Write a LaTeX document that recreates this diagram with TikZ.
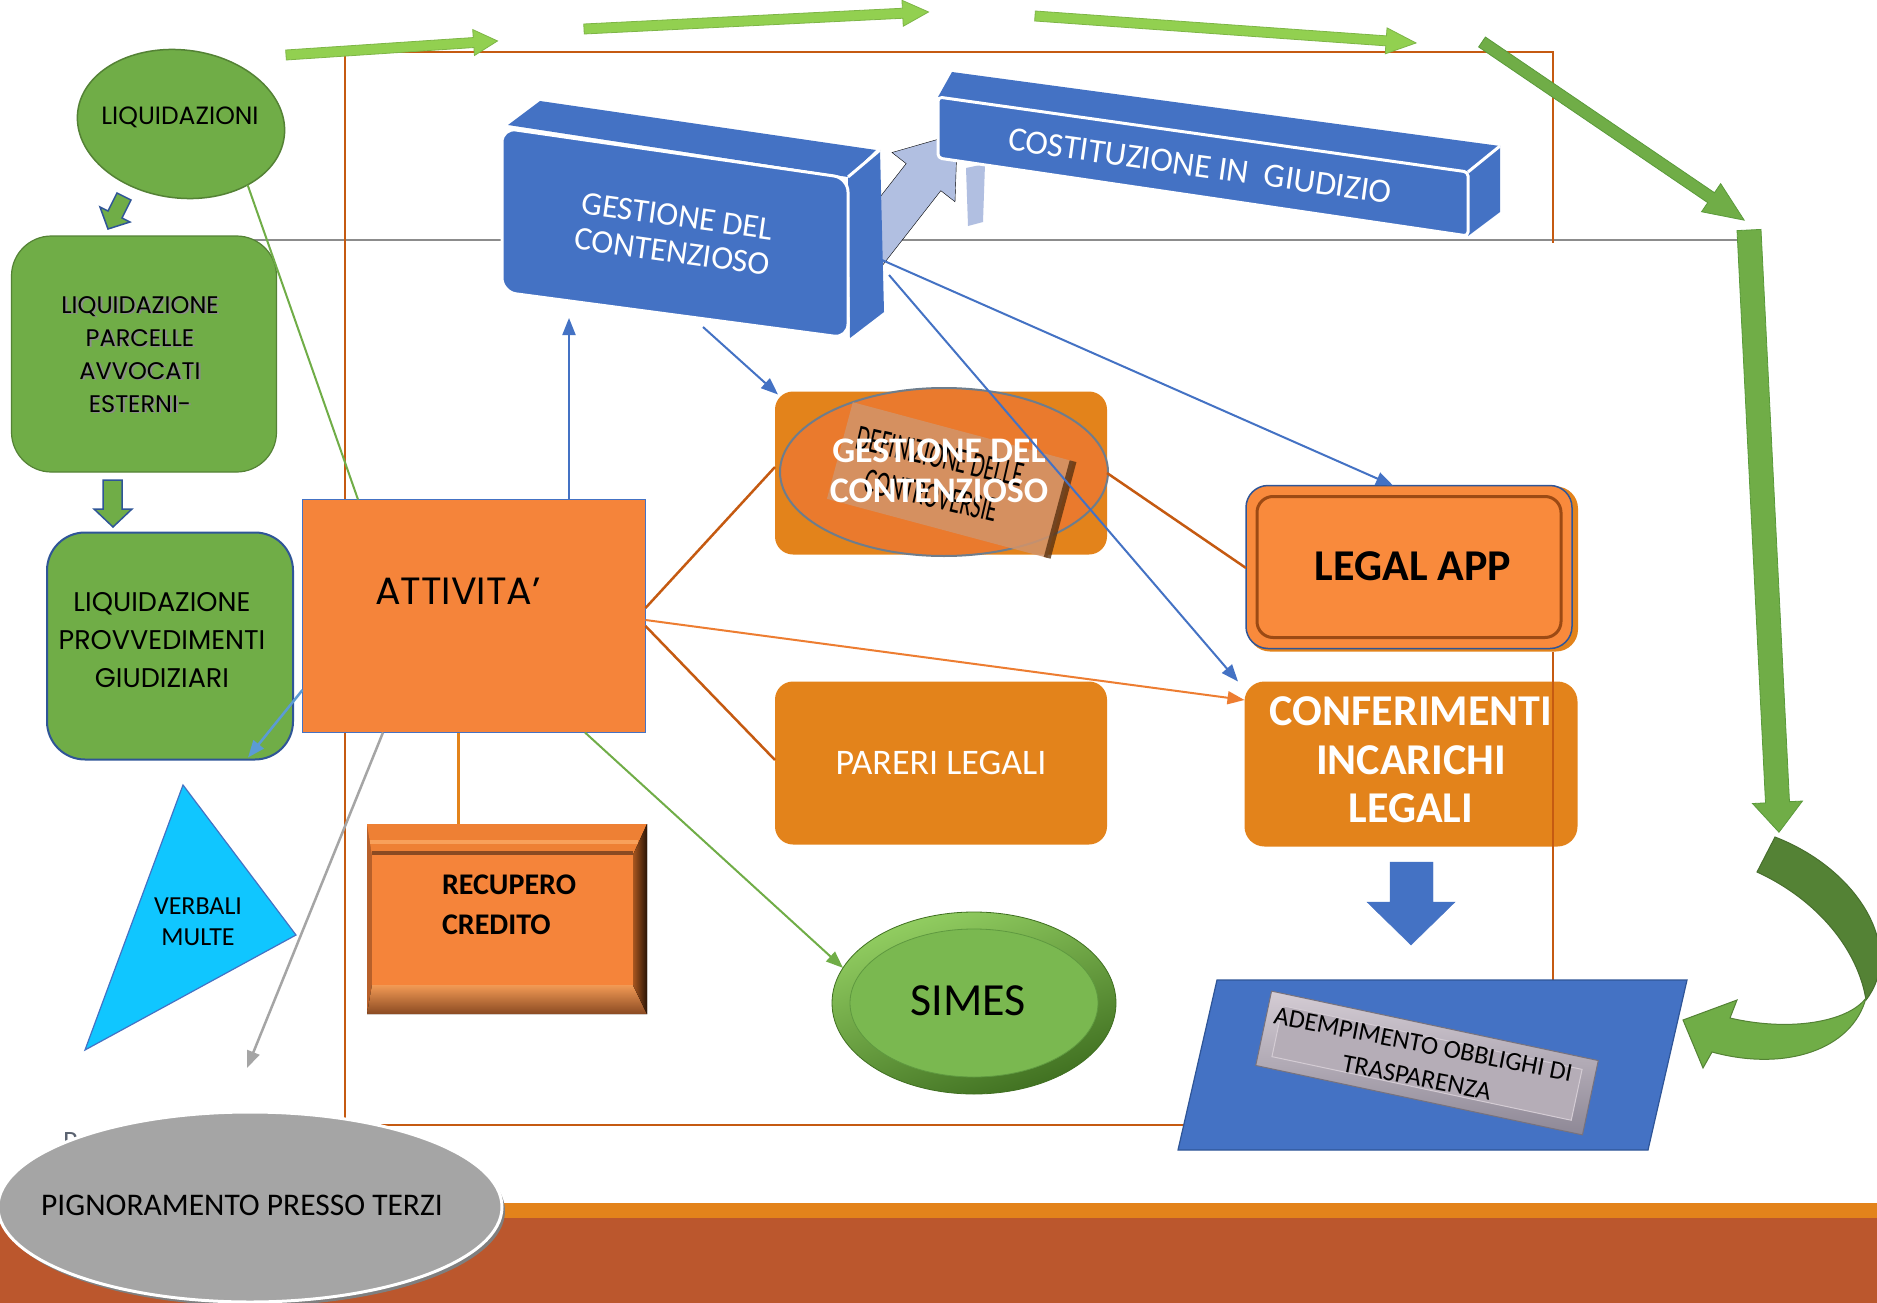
\documentclass[tikz,border=0pt]{standalone}
\usepackage{fontspec}
\usepackage{graphicx}
\setmainfont{Carlito}
\newfontfamily\gothic{Poppins}
\usetikzlibrary{shapes.geometric,arrows.meta,calc}
\definecolor{gA}{HTML}{70AD47}
\definecolor{gD}{HTML}{548235}
\definecolor{gL}{HTML}{92D050}
\definecolor{gLD}{HTML}{7DB546}
\definecolor{gMD}{HTML}{5A9A3A}
\definecolor{bA}{HTML}{4472C4}
\definecolor{bD}{HTML}{2F5597}
\definecolor{bL}{HTML}{5B9BD5}
\definecolor{lblue}{HTML}{B1BFE1}
\definecolor{oA}{HTML}{F5843A}
\definecolor{oB}{HTML}{E3831B}
\definecolor{oE}{HTML}{EA7A2D}
\definecolor{oR}{HTML}{ED7D31}
\definecolor{oD}{HTML}{C55A11}
\definecolor{oL}{HTML}{F98A3C}
\definecolor{cy}{HTML}{10C6FF}
\definecolor{frm}{HTML}{C55A11}
\definecolor{brn}{HTML}{BB572D}
\definecolor{band}{HTML}{E3831B}
\definecolor{grayA}{HTML}{A5A5A5}
\definecolor{grayS}{HTML}{7F7F7F}
\definecolor{ellB}{HTML}{6E7D8C}
\definecolor{plqC}{HTML}{D2946A}
\definecolor{plqD}{HTML}{5A3210}
\definecolor{simT}{HTML}{93CF62}
\definecolor{simB}{HTML}{3F6F20}
\definecolor{simI}{HTML}{7AB850}
\definecolor{simL}{HTML}{5F9940}
\definecolor{recTop}{HTML}{EE8034}
\definecolor{recLt}{HTML}{F8A05A}
\definecolor{recLine}{HTML}{8A4A22}
\definecolor{recBotA}{HTML}{F29A55}
\definecolor{recBotB}{HTML}{8A4A22}
\definecolor{recLeft}{HTML}{B8602A}
\definecolor{recRa}{HTML}{A8561F}
\definecolor{recRb}{HTML}{2A1507}
\definecolor{legIn}{HTML}{9C4A14}
\definecolor{adT}{HTML}{D4CCD4}
\definecolor{adB}{HTML}{8E8896}
\definecolor{adE}{HTML}{77727D}
\definecolor{adF}{HTML}{B5ADB7}
\definecolor{hidP}{HTML}{5A6270}
\newcommand{\fsz}[2]{\fontsize{#1pt}{#2pt}\selectfont}
\newcommand{\barrow}[8]{%
  \begin{scope}[shift={(#2,#3)},rotate=#4]
  \draw[#1] (0,#6) -- ({#5-#8},#6) -- ({#5-#8},#7) -- (#5,0) -- ({#5-#8},-#7) -- ({#5-#8},-#6) -- (0,-#6) -- cycle;
  \end{scope}}
\begin{document}
\begin{tikzpicture}[x=1pt,y=-1pt,
  conn/.style={line width=2pt},
  tipT/.style={-{Triangle[length=17pt,width=13pt]}},
  blueconn/.style={conn,draw=bA,tipT},
  brownconn/.style={line width=2.5pt,draw=oD},
  toparrow/.style={fill=gL,draw=gLD,line width=0.8pt},
  midarrow/.style={fill=gA,draw=gMD,line width=0.8pt},
  plain/.style={inner sep=0pt,outer sep=0pt},
  gline/.style={draw=black!45,line width=1.2pt}]
\useasboundingbox (0,0) rectangle (1877,1303);
\fill[white] (0,0) rectangle (1877,1303);
% bottom bands
\fill[band] (0,1203) rectangle (1877,1219);
\fill[brn] (0,1218) rectangle (1877,1303);
% gray line
\draw[gline] (150,240) -- (1737,240);
% light blue arrow
\barrow{fill=lblue}{865}{252}{52}{150}{22}{40}{55}
\fill[lblue] (966,168) -- (985,164) -- (983,222) -- (968,226) -- cycle;
% GESTIONE blue 3D box
\fill[bA] (508,125) -- (540,101) -- (876,150) -- (848,177) -- cycle;
\fill[bA] (848,177) -- (880,150) -- (884,312) -- (850,338) -- cycle;
\draw[white,line width=3pt] (848,177) -- (880,150);
\draw[fill=bA,draw=white,line width=3pt,rounded corners=14pt] (502,128) -- (848,178) -- (848,338) -- (502,292) -- cycle;
\node[plain,rotate=-8,text=white,font=\fsz{33}{36},align=center] (gestB) at (675,234) {GESTIONE DEL\\CONTENZIOSO};
% COSTITUZIONE 3D box
\fill[bA] (938,97) -- (952,72) -- (1500,146) -- (1468,172) -- cycle;
\fill[bA] (1468,172) -- (1500,146) -- (1500,212) -- (1468,236) -- cycle;
\draw[white,line width=3pt] (1468,172) -- (1500,146);
\draw[fill=bA,draw=white,line width=3pt,rounded corners=4pt] (938,97) -- (1468,172) -- (1468,236) -- (938,158) -- cycle;
\node[plain,rotate=-8,text=white,font=\fsz{34}{38}] (cost) at (1200,166) {COSTITUZIONE IN~~GIUDIZIO};
% CONFERIMENTI
\node[plain,rounded corners=20pt,fill=oB,minimum width=333pt,minimum height=165pt] (conf) at (1411,764) {};
\node[plain,font=\bfseries\fsz{44}{48.5},text=white,align=center] (conft) at (1411,760) {CONFERIMENTI\\INCARICHI\\LEGALI};
% frame
\draw[frm,line width=1.6pt] (345,1125) -- (345,52) -- (1553,52) -- (1553,243);
\draw[frm,line width=1.6pt] (1553,652) -- (1553,1125) -- (345,1125);
% top arrows
\barrow{toparrow}{286}{55}{3.8}{212}{5}{13}{24}
\barrow{toparrow}{584}{29}{2.83}{345}{5}{13}{26}
\barrow{toparrow}{1035}{16}{-4.05}{382}{5}{13}{30}
\barrow{midarrow}{1482}{42}{-34.2}{317}{6}{17}{40}
\barrow{midarrow}{1749}{230}{-87.15}{603}{12}{25}{30}
% curved arrow
\draw[fill=gD,draw=gD!85!black,line width=1pt] (1775,837) .. controls (1860,870) and (1905,950) .. (1866,1000) .. controls (1858,950) and (1818,900) .. (1757,872) -- cycle;
\draw[fill=gA,draw=gD,line width=1pt] (1866,998) .. controls (1852,1050) and (1785,1072) .. (1712,1052) -- (1703,1068) -- (1683,1020) -- (1737,1000) -- (1730,1018) .. controls (1790,1032) and (1848,1022) .. (1866,998) -- cycle;
% LIQUIDAZIONI
\node[plain,ellipse,fill=gA,draw=gD,line width=1.5pt,minimum width=208pt,minimum height=148pt,rotate=-7] (liq) at (181,124) {};
\node[plain,font=\gothic\fsz{25}{30}] (liqt) at (180,117) {LIQUIDAZIONI};
\draw[fill=gA,draw=bD,line width=1.5pt] (131,200) -- (122,218) -- (130,222) -- (108,229) -- (100,207) -- (108,211) -- (117,193) -- cycle;
% PARCELLE
\node[plain,rounded corners=40pt,fill=gA,draw=gD,line width=1.2pt,minimum width=265pt,minimum height=236pt] (parc) at (144,354) {};
\node[plain,font=\gothic\fsz{24}{33},align=center,text=black!45] (parcsh) at (142,356) {LIQUIDAZIONE\\PARCELLE\\AVVOCATI\\ESTERNI-};
\node[plain,font=\gothic\fsz{24}{33},align=center] (parct) at (140,354.5) {LIQUIDAZIONE\\PARCELLE\\AVVOCATI\\ESTERNI-};
\draw[fill=gA,draw=bD,line width=1.5pt] (103,480) -- (122,480) -- (122,509) -- (132,509) -- (113,527) -- (94,509) -- (103,509) -- cycle;
% PROVVEDIMENTI
\node[plain,rounded corners=38pt,fill=gA,draw=bD,line width=2pt,minimum width=246pt,minimum height=227pt] (prov) at (170,646) {};
\node[plain,font=\gothic\fsz{27}{38},align=center] (provt) at (162,640) {LIQUIDAZIONE\\PROVVEDIMENTI\\GIUDIZIARI};
% ATTIVITA
\node[plain,fill=oA,draw=bA,line width=1.5pt,minimum width=343pt,minimum height=233pt] (att) at (474,616) {};
\node[plain,font=\gothic\fsz{38}{44}] (attt) at (458,591) {ATTIVITA’};
% VERBALI MULTE
\draw[fill=cy,draw=bA,line width=1.2pt] (183,785) -- (296,935) -- (85,1050) -- cycle;
\node[plain,font=\fsz{26}{31},align=center] (verb) at (198,922) {VERBALI\\MULTE};
% RECUPERO CREDITO
\node[plain,fill=recLeft,minimum width=280pt,minimum height=190pt] (rec) at (507,918.5) {};
\fill[recTop] (367,824) -- (647,824) -- (633,855) -- (372,855) -- cycle;
\draw[recLt,line width=4pt] (370,842) -- (638,842);
\draw[recLine,line width=4pt] (372,853) -- (633,853);
\fill[top color=recBotA,bottom color=recBotB] (372,985) -- (633,985) -- (647,1014) -- (367,1014) -- cycle;
\fill[left color=recRa,right color=recRb] (633,855) -- (647,824) -- (647,1014) -- (633,985) -- cycle;
\fill[oA] (372,855) rectangle (633,985);
\node[plain,font=\bfseries\fsz{30}{40},align=left,anchor=west] (rect) at (442,905) {RECUPERO\\CREDITO};
% GESTIONE orange
\node[plain,rounded corners=18pt,fill=oB,minimum width=332pt,minimum height=163pt] (gest2) at (941,473) {};
\node[plain,ellipse,fill=oE,draw=ellB,line width=2pt,minimum width=328pt,minimum height=168pt] (gest2e) at (944,472) {};
\node[plain,rotate=-15,fill=plqC,fill opacity=0.85,minimum width=228pt,minimum height=100pt] (plq) at (950,480) {};
\draw[plqD,line width=7pt,opacity=0.8] (plq.north east) -- (plq.south east);
\node[plain,rotate=-13,font=\fsz{36}{40},align=center] (plqt) at (936,476) {\scalebox{0.6}[1]{DEFINIZIONE DELLE}\\\scalebox{0.6}[1]{CONTROVERSIE}};
\node[plain,font=\bfseries\fsz{36}{40},text=white,align=center] (gest2t) at (939,471) {GESTIONE DEL\\CONTENZIOSO};
% PARERI
\node[plain,rounded corners=18pt,fill=oB,minimum width=332pt,minimum height=163pt,text=white,font=\fsz{36}{40}] (parer) at (941,763) {PARERI LEGALI};
% SIMES
\node[plain,ellipse,minimum width=284pt,minimum height=182pt,top color=simT,bottom color=simB,shading angle=20,draw=simB,line width=0.8pt] (simes) at (974,1003) {};
\node[plain,ellipse,minimum width=248pt,minimum height=148pt,fill=simI,draw=simL,line width=0.8pt] (simesi) at (974,1003) {};
\node[plain,font=\fsz{46}{50}] (simest) at (968,1001) {SIMES};
% LEGAL APP
\node[plain,rounded corners=22pt,fill=oB,minimum width=330pt,minimum height=165pt] (legalbg) at (1413,569) {};
\node[plain,rounded corners=22pt,fill=oL,draw=bD,line width=1.5pt,minimum width=326pt,minimum height=163pt] (legal) at (1409,567) {};
\node[plain,rounded corners=16pt,draw=legIn,line width=3pt,minimum width=304pt,minimum height=141pt] (legalin) at (1409,567) {};
\node[plain,font=\bfseries\fsz{44}{48}] (legalt) at (1413,566) {LEGAL APP};
% blue down arrow
\draw[fill=bA,draw=bA] (1390,862) -- (1433,862) -- (1433,902) -- (1455,902) -- (1411,945) -- (1367,902) -- (1390,902) -- cycle;
% ADEMPIMENTO
\draw[fill=bA,draw=bD,line width=1.2pt] (1217,980) -- (1687,980) -- (1648,1150) -- (1178,1150) -- cycle;
\node[plain,rotate=-12,minimum width=334pt,minimum height=76pt,top color=adT,bottom color=adB,draw=adE,line width=1pt] (ademp) at (1427,1063) {};
\node[plain,rotate=-12,minimum width=306pt,minimum height=52pt,fill=adF,draw=adT,line width=1pt] (adempin) at (1427,1063) {};
\node[plain,rotate=-11,font=\fsz{26}{34},align=center] (adempt) at (1420,1061) {ADEMPIMENTO OBBLIGHI DI\\TRASPARENZA};
% PIGNORAMENTO
\node[plain,font=\fsz{28}{30},text=hidP,anchor=base west] (hidp) at (63,1150) {P};
\node[plain,ellipse,fill=grayS,minimum width=504pt,minimum height=190pt] (pignsh) at (253,1211) {};
\node[plain,ellipse,fill=grayA,draw=white,line width=3pt,minimum width=504pt,minimum height=190pt] (pign) at (250,1207) {};
\node[plain,font=\fsz{31.5}{36}] (pignt) at (242,1205) {PIGNORAMENTO PRESSO TERZI};
% connector end points
\coordinate (gB1) at (569,318);
\coordinate (gB2) at (703,327);
\coordinate (gB3) at (882,260);
\coordinate (gB4) at (889,275);
\coordinate (gr1) at (247,1068);
% connectors
\draw[blueconn] ([xshift=95pt]att.north) -- (gB1);
\draw[blueconn] (gB2) -- ([xshift=3pt,yshift=-3pt]gest2.north west);
\draw[blueconn] (gB3) -- ([xshift=-16pt]legal.north);
\draw[blueconn] (gB4) -- ([xshift=-173pt]conf.north);
\draw[brownconn] ([yshift=8pt]att.east) -- ([yshift=6pt]gest2.west);
\draw[brownconn] ([yshift=-10pt]att.east) -- ([yshift=3pt]parer.west);
\draw[brownconn] (gest2.east) -- ([yshift=-1pt]legal.west);
\draw[conn,draw=oR,tipT] ([yshift=-4pt]att.east) -- ([yshift=64pt]conf.west);
\draw[line width=3pt,draw=oB] ([xshift=-16pt]att.south) -- ([xshift=-49pt]rec.north);
\draw[conn,draw=gA,tipT] ([xshift=111pt]att.south) -- (simes.165);
\draw[line width=2.5pt,draw=grayA,tipT] ([xshift=-91pt]att.south) -- (gr1);
\draw[line width=2.5pt,draw=bL,tipT] ([yshift=-74pt]att.west) -- ([xshift=-45pt,yshift=2pt]prov.south east);
\draw[conn,draw=gA] (liq.south east) -- ([xshift=-116pt]att.north);
\end{tikzpicture}
\end{document}
